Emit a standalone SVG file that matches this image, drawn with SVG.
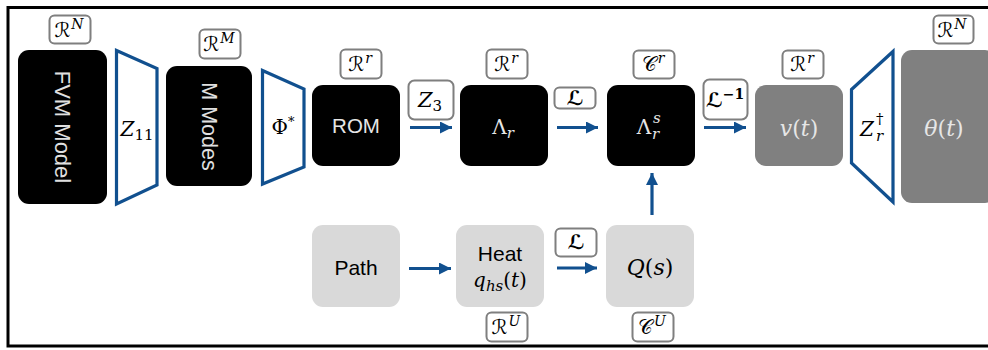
<svg xmlns="http://www.w3.org/2000/svg" width="988" height="350" viewBox="0 0 988 350">
<defs>
<style>
.blk{fill:#000}
.gry{fill:#808080}
.lgt{fill:#d9d9d9}
.lab{fill:#fff;stroke:#7f7f7f;stroke-width:2}
.trap{fill:#fff;stroke:#11508f;stroke-width:3.2;stroke-linejoin:miter}
.conn{stroke:#11508f;stroke-width:3.2;fill:none}
.sans{font-family:"Liberation Sans",Arial,sans-serif}
.math{font-family:"DejaVu Serif","Liberation Serif",serif}
.scr{font-family:"DejaVu Sans","Noto Sans",sans-serif;font-style:normal}
.it{font-style:italic}
.wt{fill:#e6e6e6}
.bt{fill:#000}
</style>
<marker id="ah" viewBox="0 0 12 12" refX="12" refY="6" markerWidth="12" markerHeight="12" markerUnits="userSpaceOnUse" orient="auto">
<path d="M0,0 L12,6 L0,12 Z" fill="#11508f"/>
</marker>
</defs>
<rect x="0" y="0" width="988" height="350" fill="#fff"/>
<rect x="8" y="7.5" width="990" height="338.5" fill="none" stroke="#000" stroke-width="3"/>

<g id="fvm">
<rect class="blk" x="18" y="50" width="89" height="154" rx="11"/>
<text class="sans" x="62.5" y="127" fill="#e0e0e0" font-size="22" text-anchor="middle" dominant-baseline="central" transform="rotate(90 62.5 127)">FVM Model</text>
<rect class="lab" x="49.5" y="15.5" width="41" height="28" rx="5"/>
<text class="math bt" x="69" y="37" font-size="20" text-anchor="middle"><tspan class="scr">ℛ</tspan><tspan class="it" font-size="14" dx="1" dy="-8">N</tspan></text>
</g>

<g id="z11">
<polygon class="trap" points="116.5,50.5 157,68.5 157,185 116.5,204"/>
<text class="math bt" x="137" y="136" font-size="20" text-anchor="middle"><tspan class="it">Z</tspan><tspan font-size="15" dy="4">11</tspan></text>
</g>

<g id="modes">
<rect class="blk" x="166" y="66" width="86" height="120" rx="11"/>
<text class="sans" x="209" y="126.5" fill="#e0e0e0" font-size="21.5" text-anchor="middle" dominant-baseline="central" transform="rotate(90 209 126.5)">M Modes</text>
<rect class="lab" x="199.5" y="29.5" width="41" height="29" rx="5"/>
<text class="math bt" x="219" y="51" font-size="20" text-anchor="middle"><tspan class="scr">ℛ</tspan><tspan class="it" font-size="14" dx="1" dy="-8">M</tspan></text>
</g>

<g id="phi">
<polygon class="trap" points="262.5,70.5 304,89 304,167 262.5,184"/>
<text class="math bt" x="283" y="134" font-size="20" text-anchor="middle">Φ<tspan font-size="13" dy="-8">*</tspan></text>
</g>

<g id="rom">
<rect class="blk" x="312" y="85" width="88" height="81" rx="11"/>
<text class="sans wt" x="356" y="133" font-size="20.5" text-anchor="middle">ROM</text>
<rect class="lab" x="340.5" y="49.5" width="41" height="29" rx="5"/>
<text class="math bt" x="360" y="71" font-size="20" text-anchor="middle"><tspan class="scr">ℛ</tspan><tspan class="it" font-size="14" dx="1" dy="-8">r</tspan></text>
</g>

<g id="lam">
<rect class="blk" x="460" y="85" width="88" height="81" rx="11"/>
<text class="math wt" x="503" y="134" font-size="20" text-anchor="middle">Λ<tspan class="it" font-size="15" dy="4">r</tspan></text>
<rect class="lab" x="486.5" y="49.5" width="41" height="29" rx="5"/>
<text class="math bt" x="506" y="71" font-size="20" text-anchor="middle"><tspan class="scr">ℛ</tspan><tspan class="it" font-size="14" dx="1" dy="-8">r</tspan></text>
</g>

<g id="lams">
<rect class="blk" x="607" y="85" width="88" height="81" rx="11"/>
<text class="math wt" x="644" y="134" font-size="20" text-anchor="middle">Λ</text>
<text class="math wt it" x="652" y="139" font-size="15">r</text>
<text class="math wt it" x="653" y="123" font-size="15">s</text>
<rect class="lab" x="633.5" y="50.5" width="41" height="28" rx="5"/>
<text class="math bt" x="653" y="71" font-size="20" text-anchor="middle"><tspan class="scr">𝒞</tspan><tspan class="it" font-size="14" dx="1" dy="-8">r</tspan></text>
</g>

<g id="vt">
<rect class="gry" x="755" y="85" width="88" height="81" rx="11"/>
<text class="math wt" x="799" y="136" font-size="22" text-anchor="middle"><tspan class="it">v</tspan>(<tspan class="it">t</tspan>)</text>
<rect class="lab" x="782.5" y="50.5" width="41" height="28" rx="5"/>
<text class="math bt" x="802" y="71" font-size="20" text-anchor="middle"><tspan class="scr">ℛ</tspan><tspan class="it" font-size="14" dx="1" dy="-8">r</tspan></text>
</g>

<g id="zr">
<polygon class="trap" points="851.5,89.5 893,51.5 893,202 851.5,163"/>
<text class="math bt it" x="867" y="136" font-size="20" text-anchor="middle">Z</text>
<text class="math bt it" x="876" y="141" font-size="15">r</text>
<text class="math bt" x="876" y="124" font-size="15">†</text>
</g>

<g id="theta">
<rect class="gry" x="901" y="50" width="95" height="153" rx="11"/>
<text class="math wt" x="944" y="136" font-size="22" text-anchor="middle"><tspan class="it">θ</tspan>(<tspan class="it">t</tspan>)</text>
<rect class="lab" x="933.5" y="15.5" width="40" height="28" rx="5"/>
<text class="math bt" x="952" y="37" font-size="20" text-anchor="middle"><tspan class="scr">ℛ</tspan><tspan class="it" font-size="14" dx="1" dy="-8">N</tspan></text>
</g>

<g id="path">
<rect class="lgt" x="312" y="225" width="88" height="82" rx="11"/>
<text class="sans bt" x="356" y="275" font-size="21" text-anchor="middle">Path</text>
</g>

<g id="heat">
<rect class="lgt" x="456" y="225" width="88" height="82" rx="11"/>
<text class="sans bt" x="500" y="261" font-size="21" text-anchor="middle">Heat</text>
<text class="math bt" x="500" y="287" font-size="20" text-anchor="middle"><tspan class="it">q</tspan><tspan class="it" font-size="15" dy="4">hs</tspan><tspan dy="-4">(</tspan><tspan class="it">t</tspan>)</text>
<rect class="lab" x="486.5" y="312.5" width="41" height="29" rx="5"/>
<text class="math bt" x="506" y="334" font-size="20" text-anchor="middle"><tspan class="scr">ℛ</tspan><tspan class="it" font-size="14" dx="1" dy="-8">U</tspan></text>
</g>

<g id="qs">
<rect class="lgt" x="606" y="225" width="88" height="82" rx="11"/>
<text class="math bt" x="650" y="275" font-size="22" text-anchor="middle"><tspan class="it">Q</tspan>(<tspan class="it">s</tspan>)</text>
<rect class="lab" x="632.5" y="312.5" width="41" height="29" rx="5"/>
<text class="math bt" x="652" y="334" font-size="20" text-anchor="middle"><tspan class="scr">𝒞</tspan><tspan class="it" font-size="14" dx="1" dy="-8">U</tspan></text>
</g>

<g id="connectors">
<line class="conn" x1="410" y1="127.5" x2="452" y2="127.5" marker-end="url(#ah)"/>
<line class="conn" x1="557" y1="127.5" x2="598" y2="127.5" marker-end="url(#ah)"/>
<line class="conn" x1="704" y1="127.5" x2="746" y2="127.5" marker-end="url(#ah)"/>
<line class="conn" x1="409" y1="268.5" x2="451" y2="268.5" marker-end="url(#ah)"/>
<line class="conn" x1="557" y1="268" x2="597" y2="268" marker-end="url(#ah)"/>
<line class="conn" x1="652" y1="215" x2="652" y2="173" marker-end="url(#ah)"/>
</g>

<g id="edge-labels">
<rect class="lab" x="408.5" y="80.5" width="45" height="39" rx="6"/>
<text class="math bt" x="430" y="107" font-size="21" text-anchor="middle"><tspan class="it">Z</tspan><tspan font-size="15" dy="4">3</tspan></text>
<rect class="lab" x="554.5" y="87.5" width="41" height="21" rx="5"/>
<text class="scr bt" x="575" y="105" font-size="20" font-weight="bold" text-anchor="middle">ℒ</text>
<rect class="lab" x="703.5" y="79.5" width="44" height="40" rx="6"/>
<text class="bt" x="725" y="107" font-size="20" font-weight="bold" text-anchor="middle"><tspan class="scr">ℒ</tspan><tspan font-family="DejaVu Serif,serif" font-size="14" dy="-8">−1</tspan></text>
<rect class="lab" x="555.5" y="228.5" width="41" height="28" rx="5"/>
<text class="scr bt" x="576" y="249" font-size="20" font-weight="bold" text-anchor="middle">ℒ</text>
</g>
</svg>
